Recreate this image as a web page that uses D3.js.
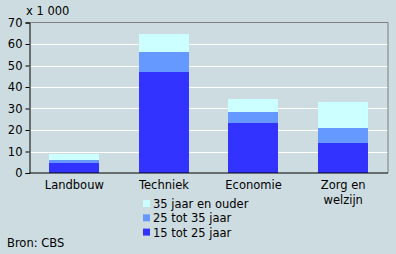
<!DOCTYPE html>
<html>
<head>
<meta charset="utf-8">
<script src="https://cdn.jsdelivr.net/npm/d3@7"></script>
<style>
  body { margin: 0; background: #cddce0; }
  svg { display: block; font-family: "DejaVu Sans", Verdana, sans-serif; }
</style>
</head>
<body>
<div id="chart"></div>
<script>
  // data (x 1 000)
  const categories = ["Landbouw", "Techniek", "Economie", "Zorg en welzijn"];
  const seriesNames = ["15 tot 25 jaar", "25 tot 35 jaar", "35 jaar en ouder"];
  const age15to25 = [4.7, 47.1, 23.3, 14.1];
  const age25to35 = [1.3, 9.2, 5.1, 6.8];
  const age35plus = [2.8, 8.5, 6.0, 12.1];
  const yTicks = [0, 10, 20, 30, 40, 50, 60, 70];
  const colors = ["#3333ff", "#6699ff", "#ccffff"];

  const width = 396, height = 254;
  const margin = { top: 22.5, right: 8, bottom: 81, left: 29.5 };
  const fs = 11.5;

  const svg = d3.select("#chart").append("svg")
    .attr("width", width)
    .attr("height", height);

  svg.append("rect").attr("width", width).attr("height", height).attr("fill", "#cddce0");

  const x = d3.scaleBand()
    .domain(categories)
    .range([margin.left, width - margin.right])
    .paddingInner(0.44)
    .paddingOuter(0.22);

  const y = d3.scaleLinear()
    .domain([0, 70])
    .range([height - margin.bottom, margin.top]);

  // gridlines
  svg.append("g")
    .selectAll("line")
    .data(yTicks.slice(1, -1))
    .join("line")
    .attr("x1", margin.left).attr("x2", width - margin.right)
    .attr("y1", d => Math.round(y(d)) + 0.5).attr("y2", d => Math.round(y(d)) + 0.5)
    .attr("stroke", "#fff").attr("stroke-width", 1);

  // top + right border
  svg.append("path")
    .attr("d", `M${margin.left},${margin.top}H${width - margin.right}V${height - margin.bottom}`)
    .attr("fill", "none").attr("stroke", "#808080");

  // stacked bars
  const table = categories.map((c, i) => ({
    cat: c, a: age15to25[i], b: age25to35[i], c35: age35plus[i]
  }));
  const stack = d3.stack().keys(["a", "b", "c35"])(table);

  svg.append("g")
    .selectAll("g")
    .data(stack)
    .join("g")
    .attr("fill", (d, i) => colors[i])
    .selectAll("rect")
    .data(d => d)
    .join("rect")
    .attr("x", d => Math.round(x(d.data.cat)))
    .attr("width", Math.round(x.bandwidth()))
    .attr("y", d => Math.round(y(d[1])))
    .attr("height", d => Math.round(y(d[0])) - Math.round(y(d[1])));

  // y axis
  const yAxis = svg.append("g")
    .attr("transform", `translate(${margin.left},0)`)
    .call(d3.axisLeft(y).tickValues(yTicks).tickSize(4).tickPadding(3));
  yAxis.select(".domain").attr("stroke", "#000");
  yAxis.selectAll("text").attr("font-size", fs).attr("fill", "#000")
    .attr("font-family", "DejaVu Sans, Verdana, sans-serif");

  // x axis line
  svg.append("line")
    .attr("x1", margin.left).attr("x2", width - margin.right)
    .attr("y1", y(0)).attr("y2", y(0))
    .attr("stroke", "#000");

  // category labels
  const catLabels = svg.append("g")
    .selectAll("text")
    .data(categories)
    .join("text")
    .attr("x", d => x(d) + x.bandwidth() / 2)
    .attr("y", 189)
    .attr("text-anchor", "middle")
    .attr("font-size", fs)
    .attr("fill", "#000");
  catLabels.each(function (d) {
    const t = d3.select(this);
    const parts = d === "Zorg en welzijn" ? ["Zorg en", "welzijn"] : [d];
    parts.forEach((p, i) => {
      t.append("tspan").attr("x", x(d) + x.bandwidth() / 2).attr("dy", i ? 15 : 0).text(p);
    });
  });

  // unit label
  svg.append("text")
    .attr("x", 26).attr("y", 15)
    .attr("font-size", fs)
    .text("x 1 000");

  // legend (top to bottom: oldest first)
  const legendItems = seriesNames.map((n, i) => ({ name: n, color: colors[i] })).reverse();
  const legend = svg.append("g")
    .selectAll("g")
    .data(legendItems)
    .join("g")
    .attr("transform", (d, i) => `translate(143,${200 + i * 14.3})`);
  legend.append("rect")
    .attr("width", 7).attr("height", 7)
    .attr("fill", d => d.color);
  legend.append("text")
    .attr("x", 10).attr("y", 8)
    .attr("font-size", fs)
    .text(d => d.name);

  // source
  svg.append("text")
    .attr("x", 7).attr("y", 247)
    .attr("font-size", fs)
    .text("Bron: CBS");
</script>
</body>
</html>
